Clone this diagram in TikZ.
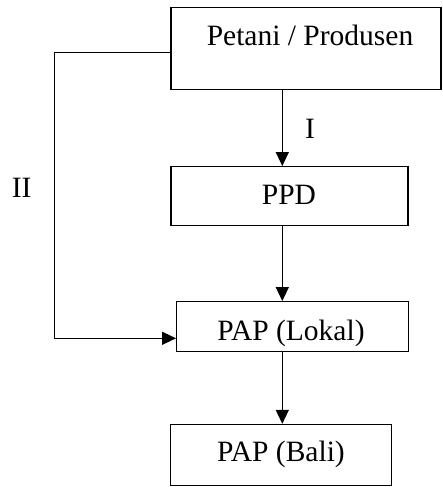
\documentclass[tikz,border=0pt]{standalone}
\usepackage{fontspec}
\setmainfont{Liberation Serif}
\usetikzlibrary{arrows.meta}
\begin{document}
\begin{tikzpicture}[x=1pt,y=-1pt,
  box/.style={draw, line width=1.3pt, inner sep=0pt},
  lbl/.style={anchor=base, inner sep=0pt, font=\fontsize{29.5}{34}\selectfont},
  conn/.style={line width=1.3pt, -{Triangle[length=14pt,width=13pt]}}]
\useasboundingbox (0,0) rectangle (442,487);
% boxes
\node[box, minimum width=270pt, minimum height=82pt] (petani) at (306,48.3) {};
\node[box, minimum width=237pt, minimum height=59pt] (ppd) at (289.5,196.2) {};
\node[box, minimum width=231.6pt, minimum height=50pt] (lokal) at (292.5,326.7) {};
\node[box, minimum width=221pt, minimum height=61pt] (bali) at (281.2,455) {};
% texts
\node[lbl] (tpetani) at (310,45.7) {Petani / Produsen};
\node[lbl] (tppd) at (289,204) {PPD};
\node[lbl] (tlokal) at (291,340) {PAP (Lokal)};
\node[lbl] (tbali) at (281,461.7) {PAP (Bali)};
\node[lbl] (tI) at (310,138) {I};
\node[lbl] (tII) at (21.7,197) {II};
% connectors
\coordinate (ax) at (282.3,0);
\coordinate (lx) at (54.3,0);
\draw[conn] (ax |- petani.south) -- (ax |- ppd.north);
\draw[conn] (ax |- ppd.south) -- (ax |- lokal.north);
\draw[conn] (ax |- lokal.south) -- (ax |- bali.north);
\coordinate (p1) at ([yshift=-4pt]petani.west);
\coordinate (q1) at ([yshift=-11.6pt]lokal.west);
\draw[conn] (p1) -- (lx |- p1) -- (lx |- q1) -- (q1);
\end{tikzpicture}
\end{document}
